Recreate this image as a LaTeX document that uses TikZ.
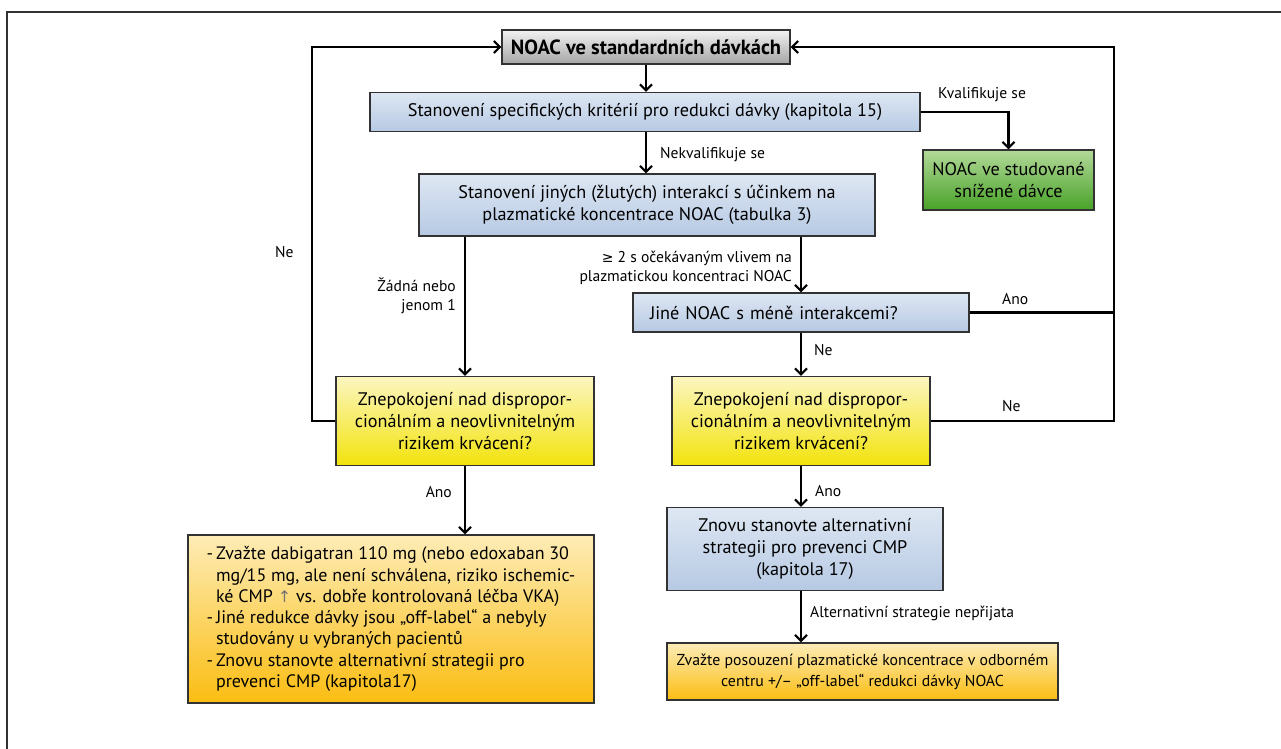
\documentclass[tikz,border=0pt]{standalone}
\usepackage{fontspec}
\setmainfont{PT Sans}
\newfontfamily\symfont{DejaVu Sans}
\usetikzlibrary{arrows.meta,calc}
\definecolor{bluetop}{RGB}{222,231,243}
\definecolor{bluebot}{RGB}{182,201,227}
\definecolor{graytop}{RGB}{242,242,242}
\definecolor{graybot}{RGB}{165,165,165}
\definecolor{greentop}{RGB}{178,217,152}
\definecolor{greenbot}{RGB}{72,162,40}
\definecolor{yeltop}{RGB}{252,246,192}
\definecolor{yelbot}{RGB}{242,227,12}
\definecolor{orgtop}{RGB}{253,236,182}
\definecolor{orgbot}{RGB}{251,189,18}
\definecolor{edge}{RGB}{50,50,50}
\begin{document}
\begin{tikzpicture}[x=1pt,y=-1pt,
  box/.style={draw=edge, line width=1.2pt, inner sep=0pt, align=center, anchor=center,
    font=\fontsize{18.2}{22}\selectfont},
  graybox/.style={box, top color=graytop, bottom color=graybot},
  bluebox/.style={box, top color=bluetop, bottom color=bluebot},
  greenbox/.style={box, top color=greentop, bottom color=greenbot},
  yelbox/.style={box, top color=yeltop, bottom color=yelbot},
  orgbox/.style={box, top color=orgtop, bottom color=orgbot},
  link/.style={line width=2.4pt},
  flow/.style={link, -{Straight Barb[length=6pt,width=12pt,line width=2.2pt]}},
  lbl/.style={font=\fontsize{15.6}{19}\selectfont, inner sep=0pt},
]
\useasboundingbox (0,0) rectangle (1281,748);

% outer frame
\draw[edge, line width=1.2pt] (7,760) -- (7,12) -- (1290,12);

% guide coordinates for the vertical runs
\coordinate (xL) at (312,0);
\coordinate (xR) at (1114,0);
\coordinate (cR) at (801,0);

% boxes
\node[graybox, minimum width=288pt, minimum height=34pt,
  font=\fontsize{20.5}{22}\selectfont\bfseries] (top) at (646,47) {NOAC ve standardních dávkách};
\node[bluebox, minimum width=550pt, minimum height=39pt] (crit) at (645,112)
  {Stanovení specifických kritérií pro redukci dávky (kapitola 15)};
\node[bluebox, minimum width=456pt, minimum height=62pt] (inter) at (647,205)
  {Stanovení jiných (žlutých) interakcí s účinkem na\\plazmatické koncentrace NOAC (tabulka 3)};
\node[greenbox, minimum width=171pt, minimum height=60pt] (green) at (1008.5,180)
  {NOAC ve studované\\snížené dávce};
\node[bluebox, minimum height=39pt, text width=302pt, inner xsep=17pt, align=left] (other) at (801,312.5)
  {Jiné NOAC s méně interakcemi?};
\node[yelbox, minimum width=258pt, minimum height=89pt] (lyel) at (465,421)
  {Znepokojení nad dispropor-\\cionálním a neovlivnitelným\\rizikem krvácení?};
\node[yelbox, minimum width=258pt, minimum height=89pt] (ryel) at (801,421)
  {Znepokojení nad dispropor-\\cionálním a neovlivnitelným\\rizikem krvácení?};
\node[bluebox, minimum width=276pt, minimum height=83pt] (alt) at (805,549)
  {Znovu stanovte alternativní\\strategii pro prevenci CMP\\(kapitola 17)};
\node[orgbox, minimum width=406pt, minimum height=168pt, align=left,
  font=\fontsize{18}{21.3}\selectfont] (lorg) at (391,619)
  {-\,Zvažte dabigatran 110 mg (nebo edoxaban 30\\
   \hphantom{-\,}mg/15 mg, ale není schválena, riziko ischemic-\\
   \hphantom{-\,}ké CMP {\symfont\fontsize{16}{16}\selectfont\color{black!55}↑} vs. dobře kontrolovaná léčba VKA)\\
   -\,Jiné redukce dávky jsou „off-label“ a nebyly\\
   \hphantom{-\,}studovány u vybraných pacientů\\
   -\,Znovu stanovte alternativní strategii pro\\
   \hphantom{-\,}prevenci CMP (kapitola17)};
\node[orgbox, minimum width=391pt, minimum height=57pt,
  font=\fontsize{15.8}{21}\selectfont] (rorg) at (862.5,671.5)
  {Zvažte posouzení plazmatické koncentrace v odborném\\centru +/– „off-label“ redukci dávky NOAC};

% connectors
\draw[flow] (top.south) -- (top.south |- crit.north);
\draw[flow] (top.south |- crit.south) -- (top.south |- inter.north);
\draw[flow] (crit.east) -| (green.north);
\draw[flow] (inter.south -| lyel.north) -- (lyel.north);
\draw[flow] (inter.south -| cR) -- (other.north -| cR);
\draw[flow] (other.south -| cR) -- (ryel.north -| cR);
\draw[link] (other.east) -- (other.east -| xR);
\draw[flow] (ryel.east) -- (ryel.east -| xR) |- (top.east);
\draw[flow] (lyel.west) -- (lyel.west -| xL) |- (top.west);
\draw[flow] (lyel.south) -- (lyel.south |- lorg.north);
\draw[flow] (ryel.south -| cR) -- (alt.north -| cR);
\draw[flow] (alt.south -| cR) -- (rorg.north -| cR);

% connector labels
\node[lbl, anchor=west] (l1) at (938,95) {Kvalifikuje se};
\node[lbl, anchor=west] (l2) at (660,155) {Nekvalifikuje se};
\node[lbl, anchor=east, align=right] (l3) at (456,296) {Žádná nebo\\jenom 1};
\node[lbl, anchor=east, align=right] (l4) at (792,268)
  {{\symfont\fontsize{14}{14}\selectfont ≥} 2 s očekávaným vlivem na\\plazmatickou koncentraci NOAC};
\node[lbl, anchor=west] (l5) at (1002,299) {Ano};
\node[lbl, anchor=west] (l6) at (814,350) {Ne};
\node[lbl, anchor=west] (l7) at (1002,406) {Ne};
\node[lbl, anchor=west] (l8) at (275,252) {Ne};
\node[lbl, anchor=east] (l9) at (452,492) {Ano};
\node[lbl, anchor=west] (l10) at (815,491) {Ano};
\node[lbl, anchor=west] (l11) at (810,613) {Alternativní strategie nepřijata};
\end{tikzpicture}
\end{document}
